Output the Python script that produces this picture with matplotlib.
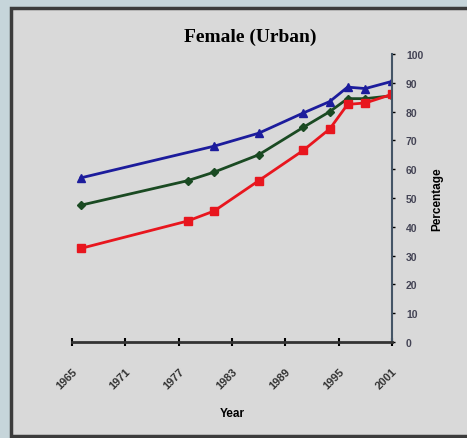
import matplotlib.pyplot as plt
from matplotlib.patches import Rectangle

# 都市部女性の割合推移 (Female, Urban)
blue_years = [1966, 1981, 1986, 1991, 1994, 1996, 1998, 2001]
blue_vals = [57, 68, 72.5, 79.5, 83.5, 88.5, 88, 90.5]

green_years = [1966, 1978, 1981, 1986, 1991, 1994, 1996, 1998, 2001]
green_vals = [47.5, 56, 59, 65, 74.5, 80, 84.5, 84.5, 85.5]

red_years = [1966, 1978, 1981, 1986, 1991, 1994, 1996, 1998, 2001]
red_vals = [32.5, 42, 45.5, 56, 66.5, 74, 82.5, 83, 86]

x_ticks = [1965, 1971, 1977, 1983, 1989, 1995, 2001]
y_ticks = list(range(0, 101, 10))

fig = plt.figure(figsize=(4.67, 4.39), dpi=100)
fig.patch.set_facecolor('#c6d5da')

# 枠
fig.patches.append(Rectangle((11 / 467, 2 / 439), 460 / 467, 428 / 439,
                             transform=fig.transFigure, facecolor='#d9d9d9',
                             edgecolor='#3c3c3c', linewidth=2.5, zorder=-1))

ax = fig.add_axes([72 / 467, 96 / 439, 320 / 467, 288 / 439])
ax.set_facecolor('none')

ax.plot(blue_years, blue_vals, color='#1c1c9c', marker='^', markersize=6, linewidth=2)
ax.plot(green_years, green_vals, color='#1a4a22', marker='D', markersize=4, linewidth=2)
ax.plot(red_years, red_vals, color='#e8161e', marker='s', markersize=6, linewidth=2)

ax.set_xlim(1965, 2001)
ax.set_ylim(0, 100)
ax.spines['top'].set_visible(False)
ax.spines['left'].set_visible(False)
ax.spines['right'].set_color('#445566')
ax.spines['bottom'].set_color('#333333')
ax.spines['right'].set_linewidth(1.5)
ax.spines['bottom'].set_linewidth(2)

ax.yaxis.tick_right()
ax.yaxis.set_label_position('right')
ax.set_yticks(y_ticks)
ax.set_yticklabels([str(v) for v in y_ticks], fontsize=7.5, family='Liberation Sans',
                   fontweight='bold', color='#444455')
ax.set_xticks(x_ticks)
ax.set_xticklabels([str(v) for v in x_ticks], fontsize=8, family='Liberation Sans',
                   fontweight='bold', rotation=45, ha='right', rotation_mode='anchor',
                   color='#333333')
ax.tick_params(axis='x', direction='inout', length=6, width=1.5, pad=14)
ax.tick_params(axis='y', direction='out', length=2, width=1, pad=8)

ax.set_xlabel('Year', fontsize=8.5, fontweight='bold', family='Liberation Sans', labelpad=12)
ax.set_ylabel('Percentage', fontsize=8.5, fontweight='bold', family='Liberation Sans',
              labelpad=6)

fig.text(250 / 467, 1 - 37 / 439, 'Female (Urban)', ha='center', va='center',
         fontsize=14, fontweight='bold', family='Liberation Serif')

fig.savefig('out.png', dpi=100, facecolor=fig.get_facecolor())
